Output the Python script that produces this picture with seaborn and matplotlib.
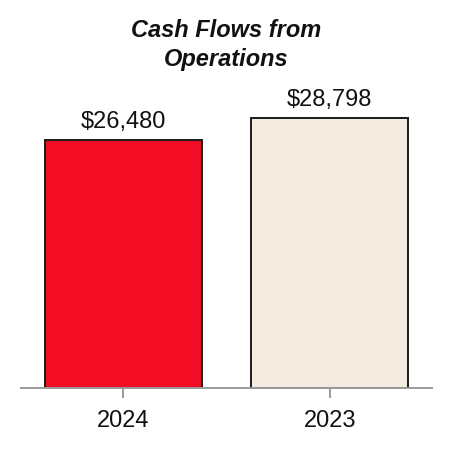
import matplotlib
matplotlib.use("Agg")
import matplotlib.pyplot as plt
import seaborn as sns
import pandas as pd

# chart data
years = ["2024", "2023"]
cash_flows = [26480, 28798]
bar_colors = ["#F20C24", "#F3EBE0"]

df = pd.DataFrame({"year": years, "value": cash_flows})

sns.set_style("white")
plt.rcParams["font.family"] = ["Liberation Sans", "DejaVu Sans"]

fig = plt.figure(figsize=(4.52, 4.52), dpi=100)
ax = fig.add_axes([21 / 452, 63 / 452, 411 / 452, 289 / 452])

sns.barplot(data=df, x="year", y="value", hue="year", palette=bar_colors,
            order=years, hue_order=years, width=0.76, edgecolor="#1a1a1a",
            linewidth=1.4, saturation=1, legend=False, ax=ax)

# value labels above the bars
for patch, val in zip(ax.patches, cash_flows):
    ax.annotate(f"${val:,}", (patch.get_x() + patch.get_width() / 2, val),
                xytext=(0, 6), textcoords="offset points",
                ha="center", va="bottom", fontsize=17, color="#111111")

ax.set_xlim(-0.495, 1.495)
ax.set_ylim(0, 30857)
ax.set_xlabel("")
ax.set_ylabel("")
ax.set_yticks([])
for side in ["left", "right", "top"]:
    ax.spines[side].set_visible(False)
ax.spines["bottom"].set_color("#9a9a9a")
ax.spines["bottom"].set_linewidth(1.4)
ax.tick_params(axis="x", bottom=True, length=7, width=1.4, color="#9a9a9a",
               labelsize=17, labelcolor="#111111", pad=8)

fig.text(0.5, 1 - 45 / 452, "Cash Flows from\nOperations",
         ha="center", va="center", fontsize=17, fontweight="bold",
         fontstyle="italic", linespacing=1.28, color="#111111")

fig.savefig("out.png", dpi=100)
